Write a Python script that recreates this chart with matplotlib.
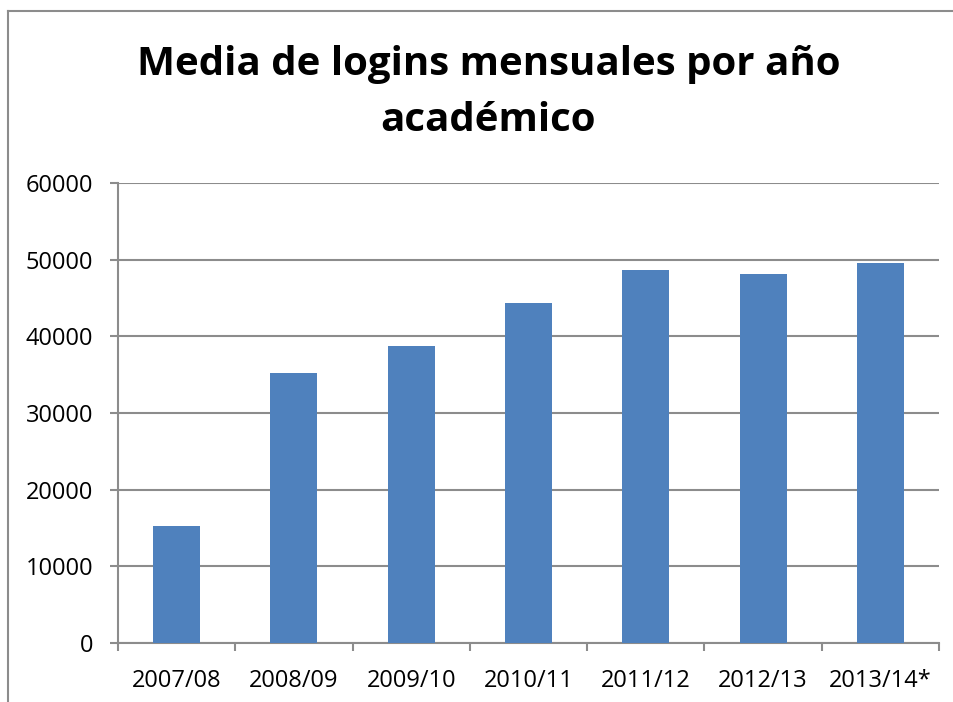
import numpy as np
import matplotlib.pyplot as plt
from matplotlib.lines import Line2D

years = ['2007/08', '2008/09', '2009/10', '2010/11', '2011/12', '2012/13', '2013/14*']
logins = [15200, 35200, 38700, 44300, 48700, 48100, 49600]

plt.rcParams['font.family'] = ['Open Sans', 'DejaVu Sans']
grey = '#8c8c8c'

fig = plt.figure(figsize=(9.54, 7.02), dpi=100)
ax = fig.add_axes([0.1237, 0.084, 0.8606, 0.6553])

x = np.arange(len(years))
ax.bar(x, logins, width=0.4, color='#4f81bd', zorder=3)

ax.set_ylim(0, 60000)
ax.set_xlim(-0.5, len(years) - 0.5)
ax.set_yticks(np.arange(0, 60001, 10000))
ax.yaxis.grid(True, color=grey, linewidth=1.5, zorder=0)

# category boundaries get the tick marks, labels sit in the middle
ax.set_xticks(np.arange(-0.5, len(years)), labels=[])
ax.set_xticks(x, labels=years, minor=True)
ax.tick_params(axis='x', which='major', length=6, width=1.5, color=grey)
ax.tick_params(axis='x', which='minor', length=0, pad=19, labelsize=17)
ax.tick_params(axis='y', length=6, width=1.5, color=grey, pad=12, labelsize=17)

for s in ['top', 'right']:
    ax.spines[s].set_visible(False)
for s in ['left', 'bottom']:
    ax.spines[s].set_color(grey)
    ax.spines[s].set_linewidth(1.5)

fig.text(0.512, 0.868, 'Media de logins mensuales por año\nacadémico',
         ha='center', va='center', fontsize=29, fontweight='bold',
         linespacing=1.55)

# chart frame (cropped on the right and bottom)
fig.add_artist(Line2D([0.0084, 0.0084], [0, 0.9843], color=grey, linewidth=1.5))
fig.add_artist(Line2D([0.0084, 1], [0.9843, 0.9843], color=grey, linewidth=1.5))

fig.savefig('out.png', dpi=100)
